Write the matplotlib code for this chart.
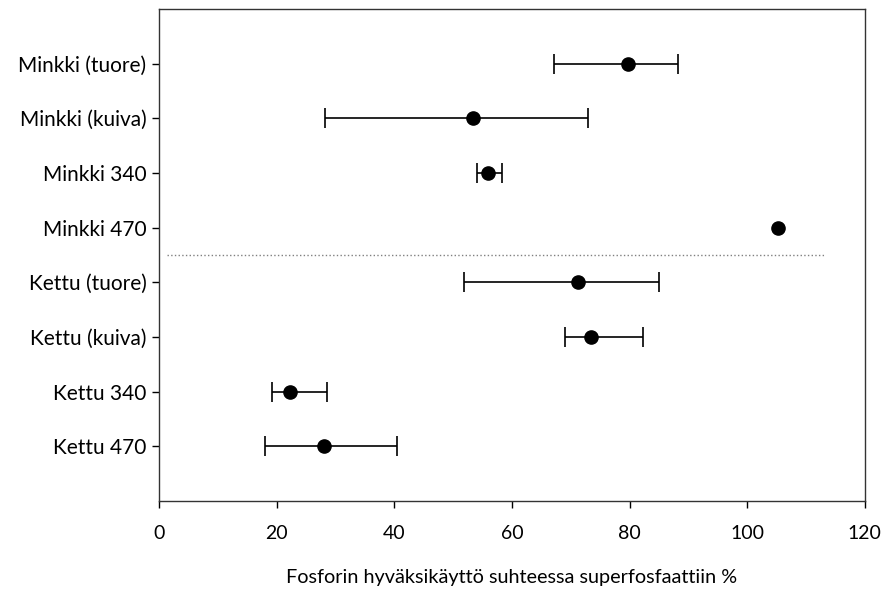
import matplotlib.pyplot as plt

# samples, top to bottom
labels = ["Minkki (tuore)", "Minkki (kuiva)", "Minkki 340", "Minkki 470",
          "Kettu (tuore)", "Kettu (kuiva)", "Kettu 340", "Kettu 470"]
mean = [79.8, 53.4, 56.0, 105.3, 71.3, 73.5, 22.3, 28.1]
low = [67.1, 28.3, 54.0, 105.3, 51.9, 69.0, 19.2, 18.0]
high = [88.2, 72.9, 58.3, 105.3, 85.0, 82.2, 28.6, 40.5]

plt.rcParams['font.family'] = ['Lato', 'DejaVu Sans']

fig = plt.figure(figsize=(8.83, 5.9), dpi=100)
ax = fig.add_axes([0.180, 0.151, 0.7995, 0.834])

pos = list(range(1, len(labels) + 1))
err = [[m - l for m, l in zip(mean, low)], [h - m for m, h in zip(mean, high)]]
has_err = [h > l for l, h in zip(low, high)]

for i in range(len(labels)):
    if has_err[i]:
        ax.errorbar(mean[i], pos[i], xerr=[[err[0][i]], [err[1][i]]], fmt='none',
                    ecolor='black', elinewidth=1.2, capsize=7, capthick=1.2, zorder=2)
ax.plot(mean, pos, 'o', color='black', markersize=9.5, zorder=3)

# separator between mink and fox
ax.plot([1.3, 113.2], [4.5, 4.5], linestyle=':', color='#808080', linewidth=1)

ax.set_xlim(0, 120)
ax.set_ylim(9, 0)
ax.set_xticks([0, 20, 40, 60, 80, 100, 120])
ax.set_yticks(pos)
ax.set_yticklabels(labels)
ax.tick_params(axis='both', labelsize=14, length=5, width=1, direction='out', pad=4)
ax.tick_params(axis='y', labelsize=15)
ax.tick_params(axis='x', pad=12)
ax.set_xlabel("Fosforin hyväksikäyttö suhteessa superfosfaattiin %", fontsize=14.3, labelpad=20)

for s in ax.spines.values():
    s.set_linewidth(1)
    s.set_color('#333333')

fig.savefig("out.png", dpi=100)
